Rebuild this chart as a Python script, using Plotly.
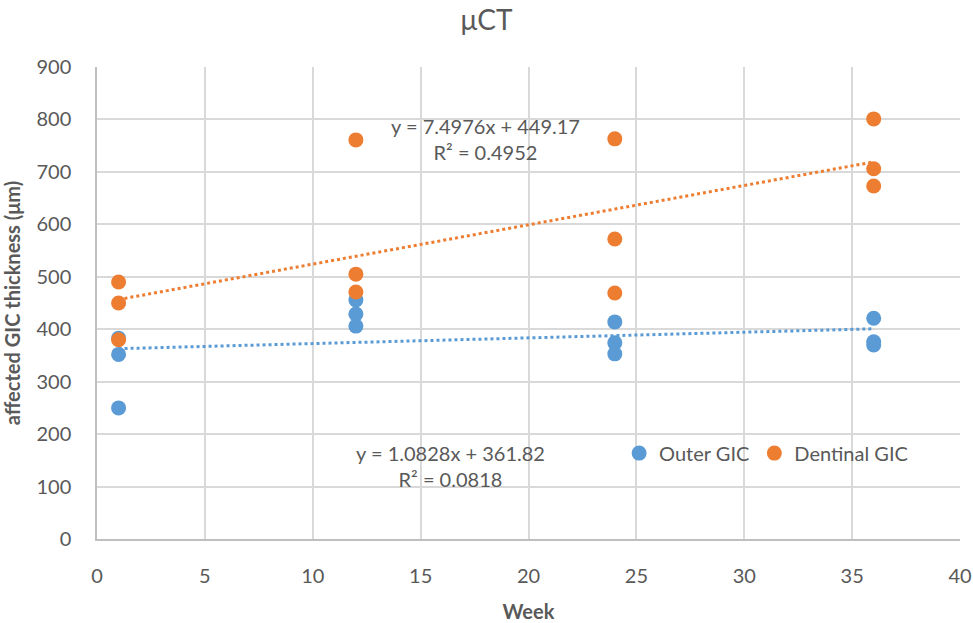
import plotly.graph_objects as go

# Measurements per week
weeks = [1, 1, 1, 12, 12, 12, 24, 24, 24, 36, 36, 36]
outer_gic = [383, 352, 250, 456, 429, 406, 414, 374, 353, 421, 376, 370]
dentinal_gic = [490, 450, 380, 761, 505, 471, 763, 572, 469, 801, 706, 673]

# Linear trend coefficients (slope, intercept, R²)
outer_fit = [1.0828, 361.82, 0.0818]
dentinal_fit = [7.4976, 449.17, 0.4952]
fit_range = [1, 36]

BLUE = "#5B9BD5"
ORANGE = "#ED7D31"
TEXT = "#595959"
FONT = "Lato"

fig = go.Figure()


def trend(fit, color):
    xs = fit_range
    ys = [fit[0] * x + fit[1] for x in xs]
    return go.Scatter(x=xs, y=ys, mode="lines", showlegend=False, hoverinfo="skip",
                      line=dict(color=color, width=3, dash="dot"))


fig.add_trace(trend(outer_fit, BLUE))
fig.add_trace(trend(dentinal_fit, ORANGE))

fig.add_trace(go.Scatter(x=weeks, y=outer_gic, mode="markers", name="Outer GIC",
                         marker=dict(color=BLUE, size=15)))
fig.add_trace(go.Scatter(x=weeks, y=dentinal_gic, mode="markers", name="Dentinal GIC",
                         marker=dict(color=ORANGE, size=15)))


def eq_text(fit):
    return f"y = {fit[0]}x + {fit[1]}<br>R² = {fit[2]}"


fig.add_annotation(x=18.0, y=762, text=eq_text(dentinal_fit), showarrow=False,
                   xanchor="center", yanchor="middle", align="center",
                   font=dict(family=FONT, size=20, color=TEXT))
fig.add_annotation(x=16.4, y=139, text=eq_text(outer_fit), showarrow=False,
                   xanchor="center", yanchor="middle", align="center",
                   font=dict(family=FONT, size=20, color=TEXT))

axis_common = dict(showgrid=True, gridcolor="#D9D9D9", gridwidth=1.5, zeroline=False,
                   showline=True, linecolor="#BFBFBF", linewidth=1.5, ticks="",
                   automargin=False, tickfont=dict(size=20, color=TEXT))

fig.update_layout(
    width=973, height=623,
    margin=dict(l=97, r=13, t=67, b=84),
    paper_bgcolor="white", plot_bgcolor="white",
    font=dict(family=FONT, size=20, color=TEXT),
    title=dict(text="μCT", x=0.5, xanchor="center", y=0.968, yanchor="middle",
               font=dict(family=FONT, size=28, color=TEXT)),
    xaxis=dict(range=[0, 40], dtick=5, ticklabelstandoff=18,
               title=dict(text="<b>Week</b>", font=dict(size=20, color=TEXT), standoff=20),
               **axis_common),
    yaxis=dict(range=[0, 900], dtick=100, ticklabelstandoff=20,
               title=dict(text="<b>affected GIC thickness (μm)</b>", font=dict(size=20, color=TEXT),
                          standoff=20),
               **axis_common),
    legend=dict(orientation="h", x=0.605, y=0.182, xanchor="left", yanchor="middle",
                font=dict(family=FONT, size=20, color=TEXT), itemwidth=30,
                bgcolor="rgba(0,0,0,0)"),
)

fig.write_html("out.html")
